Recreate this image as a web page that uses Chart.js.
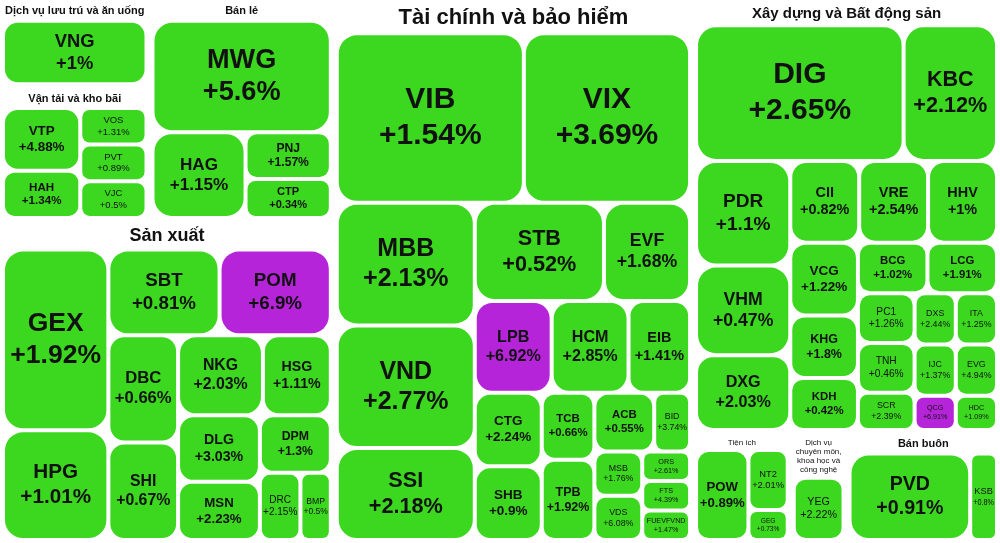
<!DOCTYPE html><html><head><meta charset="utf-8">
<script src="https://cdn.jsdelivr.net/npm/chart.js@4"></script>
<style>html,body{margin:0;background:#fff}#w{width:1000px;height:543px}</style></head><body>
<div id="w"><canvas id="c"></canvas></div>
<script>
const sectors=["Tài chính và bảo hiểm","Xây dựng và Bất động sản","Sản xuất","Bán lẻ","Bán buôn","Vận tải và kho bãi","Tiện ích","Dịch vụ chuyên môn, khoa học và công nghệ","Dịch vụ lưu trú và ăn uống"];
const tickers=[
["VIB","VIX","MBB","VND","SSI","STB","EVF","LPB","HCM","EIB","CTG","SHB","TCB","TPB","ACB","BID","MSB","VDS","ORS","FTS","FUEVFVND"],
["DIG","KBC","PDR","VHM","DXG","CII","VRE","HHV","VCG","KHG","KDH","BCG","LCG","PC1","TNH","SCR","DXS","ITA","IJC","EVG","QCG","HDC"],
["GEX","HPG","SBT","POM","DBC","SHI","NKG","HSG","DLG","MSN","DPM","DRC","BMP"],
["MWG","HAG","PNJ","CTP"],
["PVD","KSB"],
["VTP","HAH","VOS","PVT","VJC"],
["POW","NT2","GEG"],
["YEG"],
["VNG"]];
const changes=[
[1.54,3.69,2.13,2.77,2.18,0.52,1.68,6.92,2.85,1.41,2.24,0.9,0.66,1.92,0.55,3.74,1.76,6.08,2.61,4.39,1.47],
[2.65,2.12,1.1,0.47,2.03,0.82,2.54,1,1.22,1.8,0.42,1.02,1.91,1.26,0.46,2.39,2.44,1.25,1.37,4.94,6.91,1.09],
[1.92,1.01,0.81,6.9,0.66,0.67,2.03,1.11,3.03,2.23,1.3,2.15,0.5],
[5.6,1.15,1.57,0.34],
[0.91,0.8],
[4.88,1.34,1.31,0.89,0.5],
[0.89,2.01,0.73],
[2.22],
[1]];
const weights=[
[45,40,24,24,18,18,12,10,10,8,7,7,5,6,5,3,3,3,2,2,2],
[40,18,14,12,10,8,8,8,7,6,5,5,5,4,4,3,3,3,3,3,2,2],
[28,17,14,14,11,10,10,8,8,7,6,4,3],
[30,12,6,5],
[18,4],
[8,6,4,4,4],
[8,4,2],
[8],
[17]];
const layoutTree={d:'h',c:[{d:'v',c:[{d:'h',c:[{d:'v',c:[8,5]},3]},2]},0,{d:'v',c:[1,{d:'h',c:[6,7,4]}]}]};

function worst(row,w){let s=0,mx=-1e9,mn=1e9;for(const r of row){s+=r.a;mx=Math.max(mx,r.a);mn=Math.min(mn,r.a);}return Math.max(w*w*mx/(s*s),s*s/(w*w*mn));}
function squarify(items,x,y,w,h){const tot=items.reduce((a,b)=>a+b.v,0);const sc=w*h/tot;let its=items.map(i=>({...i,a:i.v*sc}));const out=[];
 while(its.length){const side=Math.min(w,h);let row=[its[0]];let i=1;while(i<its.length&&worst(row.concat(its[i]),side)<=worst(row,side)){row.push(its[i]);i++;}
  its=its.slice(i);const s=row.reduce((a,b)=>a+b.a,0);
  if(w>=h){const rw=s/h;let yy=y;for(const r of row){const rh=r.a/rw;out.push({...r,x,y:yy,w:rw,h:rh});yy+=rh;}x+=rw;w-=rw;}
  else{const rh=s/w;let xx=x;for(const r of row){const rw=r.a/rh;out.push({...r,x:xx,y,w:rw,h:rh});xx+=rw;}y+=rh;h-=rh;}}
 return out;}
const sw=i=>weights[i].reduce((a,b)=>a+b,0);
const nw=n=>typeof n==='number'?sw(n):n.c.reduce((a,b)=>a+nw(b),0);
function place(n,x,y,w,h,out){if(typeof n==='number'){out.push({i:n,x,y,w,h});return;}
 const t=nw(n);let o=0;for(const c of n.c){const f=nw(c)/t;
  if(n.d==='h')place(c,x+o*w,y,w*f,h,out);else place(c,x,y+o*h,w,h*f,out);o+=f;}}
function wrap(ctx,text,maxW){const words=text.split(' ');const lines=[];let cur='';
 for(const w of words){const t=cur?cur+' '+w:w;if(ctx.measureText(t).width>maxW&&cur){lines.push(cur);cur=w;}else cur=t;}
 if(cur)lines.push(cur);return lines;}

const plugin={id:'tm',afterDraw(chart){const ctx=chart.ctx,X=chart.scales.x,Y=chart.scales.y;
 const px=v=>X.getPixelForValue(v),py=v=>Y.getPixelForValue(v);
 const sl=[];place(layoutTree,0,0,1000,543,sl);
 ctx.save();ctx.textAlign='center';ctx.textBaseline='middle';
 for(const s of sl){const x0=px(s.x),y0=py(s.y),x1=px(s.x+s.w),y1=py(s.y+s.h);
  const W=x1-x0,H=y1-y0;const name=sectors[s.i];
  const fs=s.i==0?22:(s.i==2?18:(W>200?15:(W>110?11:8)));
  ctx.fillStyle='#111';ctx.font=`${s.i==0||fs>=11?'bold ':''}${fs}px "Liberation Sans",Arial`;
  const lines=wrap(ctx,name,W-8);const lhh=fs*1.15;
  lines.forEach((l,k)=>ctx.fillText(l,(x0+x1)/2,y0+5+lhh*(k+0.5)));
  const lh=lines.length*lhh+6;
  const items=tickers[s.i].map((t,k)=>({t,c:changes[s.i][k],v:weights[s.i][k]}));
  const cells=squarify(items,x0+3,y0+lh+2,W-6,H-lh-5);
  for(const c of cells){ctx.fillStyle=c.c>=6.9?'#b524d8':'#3cd71f';
   ctx.beginPath();ctx.roundRect(c.x+2,c.y+2,c.w-4,c.h-4,Math.min(18,c.w/5,c.h/5));ctx.fill();
   const f=Math.max(6,Math.min(30,Math.sqrt(c.w*c.h)/5.2,c.h/3));
   ctx.fillStyle='#111';ctx.font=`${f>11?'bold ':''}${f}px "Liberation Sans",Arial`;
   const cx=c.x+c.w/2,cy=c.y+c.h/2;ctx.fillText(c.t,cx,cy-f*0.6,c.w-6);
   ctx.fillText((c.c>0?'+':'')+c.c+'%',cx,cy+f*0.6,c.w-6);}
 }
 ctx.restore();}};
new Chart(document.getElementById('c'),{type:'scatter',data:{datasets:[{data:[]}]},
 options:{responsive:true,maintainAspectRatio:false,animation:false,layout:{padding:0},
 plugins:{legend:{display:false},tooltip:{enabled:false}},
 scales:{x:{type:'linear',min:0,max:1000,display:false},y:{type:'linear',min:0,max:543,reverse:true,display:false}}},
 plugins:[plugin]});
</script></body></html>
